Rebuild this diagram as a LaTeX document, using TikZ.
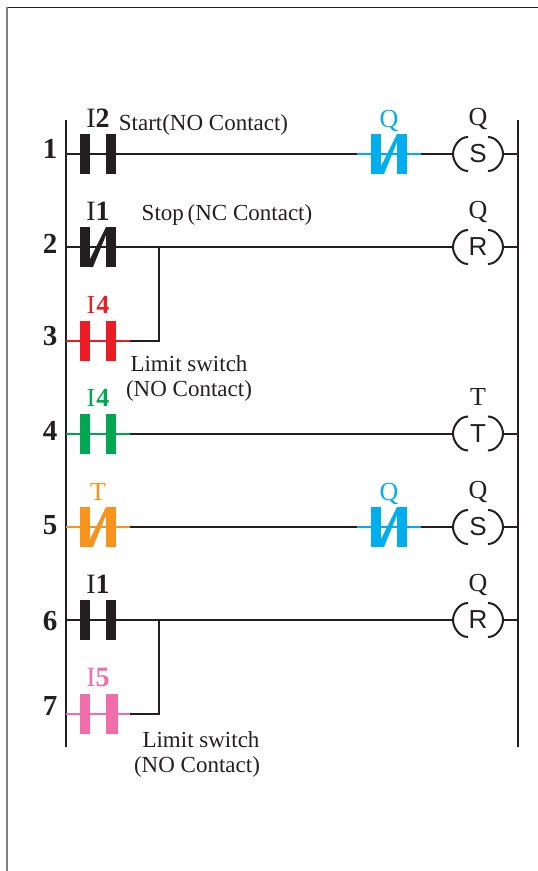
\documentclass[tikz,border=0pt]{standalone}
\usepackage{fontspec}
\setmainfont{Liberation Serif}
\setsansfont{Liberation Sans}
\usetikzlibrary{positioning}
\definecolor{ink}{HTML}{231F20}
\definecolor{plcred}{HTML}{ED1C24}
\definecolor{plcgreen}{HTML}{00A651}
\definecolor{plccyan}{HTML}{00AEEF}
\definecolor{plcorange}{HTML}{F7941D}
\definecolor{plcpink}{HTML}{F06EAA}
\tikzset{
wire/.style={line width=2pt, color=ink}, % the rails and the rungs
bar end/.store in=\barend, bar end=18pt, % outer edge of the right bar of a contact
contact/.style={minimum width=64pt, minimum height=40pt, inner sep=0pt, outer sep=0pt},
no contact/.style={contact, path picture={
  \fill[#1] ([xshift=-18pt]path picture bounding box.south) rectangle ([xshift=-8pt]path picture bounding box.north);
  \fill[#1] ([xshift=8pt]path picture bounding box.south) rectangle ([xshift=\barend]path picture bounding box.north);
  \draw[#1, line width=2pt] (path picture bounding box.west) -- (path picture bounding box.east);
}},
nc contact/.style={contact, path picture={
  \fill[#1] ([xshift=-18pt]path picture bounding box.south) rectangle ([xshift=-8pt]path picture bounding box.north);
  \fill[#1] ([xshift=8pt]path picture bounding box.south) rectangle ([xshift=18pt]path picture bounding box.north);
  \draw[#1, line width=2pt] (path picture bounding box.west) -- (path picture bounding box.east);
  \fill[#1] ([xshift=8pt]path picture bounding box.north) -- ([xshift=-8pt,yshift=8pt]path picture bounding box.south) -- ([xshift=-8pt]path picture bounding box.south) -- ([xshift=-5pt]path picture bounding box.south) -- ([xshift=8pt,yshift=-8pt]path picture bounding box.north) -- cycle;
}},
coil/.style={minimum width=52pt, minimum height=38pt, inner sep=0pt, outer sep=0pt,
  font=\sffamily\fontsize{26}{28}\selectfont, text=ink, path picture={
  \draw[wire] (path picture bounding box.center) ++(-10,-17) .. controls +(-9,0) and +(0,-7) .. ++(-15,17) .. controls +(0,7) and +(-9,0) .. ++(15,17);
  \draw[wire] (path picture bounding box.center) ++(10,-17) .. controls +(9,0) and +(0,-7) .. ++(15,17) .. controls +(0,7) and +(9,0) .. ++(-15,17);
}},
tag/.style={inner sep=0pt, text depth=0pt, font=\fontsize{26}{28}\selectfont, text=#1}, % name above a contact or coil
note/.style={inner sep=0pt, anchor=base, font=\fontsize{23}{25}\selectfont, text=ink}, % free text
rungno/.style={inner sep=0pt, anchor=base, font=\bfseries\fontsize{29}{31}\selectfont, text=ink},
}
\begin{document}
\begin{tikzpicture}[x=1pt, y=-1pt]
\useasboundingbox (0,0) rectangle (538,871);
\coordinate (frametl) at (7,7);
\coordinate (frametr) at (538,7);
\coordinate (framebl) at (7,871);
\draw[line width=1pt, ink] (frametl) -- (frametr);
\draw[line width=2pt, gray] (frametl) -- (framebl);

\coordinate (railla) at (66,120);
\coordinate (raillb) at (66,747);
\coordinate (railra) at (518,120);
\coordinate (railrb) at (518,747);
\foreach \n/\y/\b in {1/154/158, 2/247/253, 3/340.5/345, 4/433.5/440, 5/527/534, 6/620/630, 7/713.5/715} {
  \coordinate (left\n) at (66,\y);
  \coordinate (right\n) at (518,\y);
  \node[rungno] (num\n) at (50,\b) {\n};
}
\draw[wire] (railla) -- (raillb);
\draw[wire] (railra) -- (railrb);

% contacts
\node[no contact=ink] (i2) at (98,154) {};
\node[nc contact=ink] (i1a) at (98,247) {};
\node[no contact=plcred] (i4a) at (98,340.5) {};
\node[no contact=plcgreen] (i4b) at (98,433.5) {};
\node[nc contact=plcorange] (ta) at (98,527) {};
\node[no contact=ink] (i1b) at (98,620) {};
\node[bar end=20pt, no contact=plcpink] (i5) at (98,713.5) {};
\node[nc contact=plccyan] (qa) at (389,154) {};
\node[nc contact=plccyan] (qb) at (389,527) {};

% coils
\node[coil] (qs1) at (478,154) {S};
\node[coil] (qr1) at (478,247) {R};
\node[coil] (tc) at (478,433.5) {T};
\node[coil] (qs2) at (478,527) {S};
\node[coil] (qr2) at (478,620) {R};

% names
\node[tag=ink, font=\fontsize{28}{30}\selectfont, above=6pt of i2] (li2) {I\textbf{2}};
\node[tag=ink, font=\fontsize{28}{30}\selectfont, above=6pt of i1a] (li1a) {I\textbf{1}};
\node[tag=plcred, above=7pt of i4a] (li4a) {I\kern1pt\textbf{4}};
\node[tag=plcgreen, above=7pt of i4b] (li4b) {I\kern1pt\textbf{4}};
\node[tag=plcorange, above=6pt of ta] (lta) {T};
\node[tag=ink, font=\fontsize{28}{30}\selectfont, above=6pt of i1b] (li1b) {I\textbf{1}};
\node[tag=plcpink, font=\fontsize{28}{30}\selectfont, above=7pt of i5] (li5) {I\textbf{5}};
\node[tag=plccyan, above=6pt of qa] (lqa) {Q};
\node[tag=plccyan, above=6pt of qb] (lqb) {Q};
\node[tag=ink, above=9pt of qs1] (lqs1) {Q};
\node[tag=ink, above=9pt of qr1] (lqr1) {Q};
\node[tag=ink, above=9pt of tc] (ltc) {T};
\node[tag=ink, above=9pt of qs2] (lqs2) {Q};
\node[tag=ink, above=9pt of qr2] (lqr2) {Q};

% free text
\node[note] (start) at (203.5,130) {Start(NO Contact)};
\node[note] (stop) at (227,220) {Stop\,(NC Contact)};
\node[note] (lima) at (189,371) {Limit switch};
\node[note] (noa) at (189,396) {(NO Contact)};
\node[note] (limb) at (201,747) {Limit switch};
\node[note] (nob) at (197,772) {(NO Contact)};

% rungs
\coordinate (j2) at (158.5,247);
\coordinate (j6) at (158.5,620);
\draw[wire] (left1) -- (i2);
\draw[wire] (i2) -- (qa);
\draw[wire] (qa) -- (qs1);
\draw[wire] (qs1) -- (right1);
\draw[wire] (left2) -- (i1a);
\draw[wire] (i1a) -- (qr1);
\draw[wire] (qr1) -- (right2);
\draw[wire] (i4a) -| (j2);
\draw[wire] (i4b) -- (tc);
\draw[wire] (tc) -- (right4);
\draw[wire] (ta) -- (qb);
\draw[wire] (qb) -- (qs2);
\draw[wire] (qs2) -- (right5);
\draw[wire] (left6) -- (i1b);
\draw[wire] (i1b) -- (qr2);
\draw[wire] (qr2) -- (right6);
\draw[wire] (i5) -| (j6);
\end{tikzpicture}
\end{document}
